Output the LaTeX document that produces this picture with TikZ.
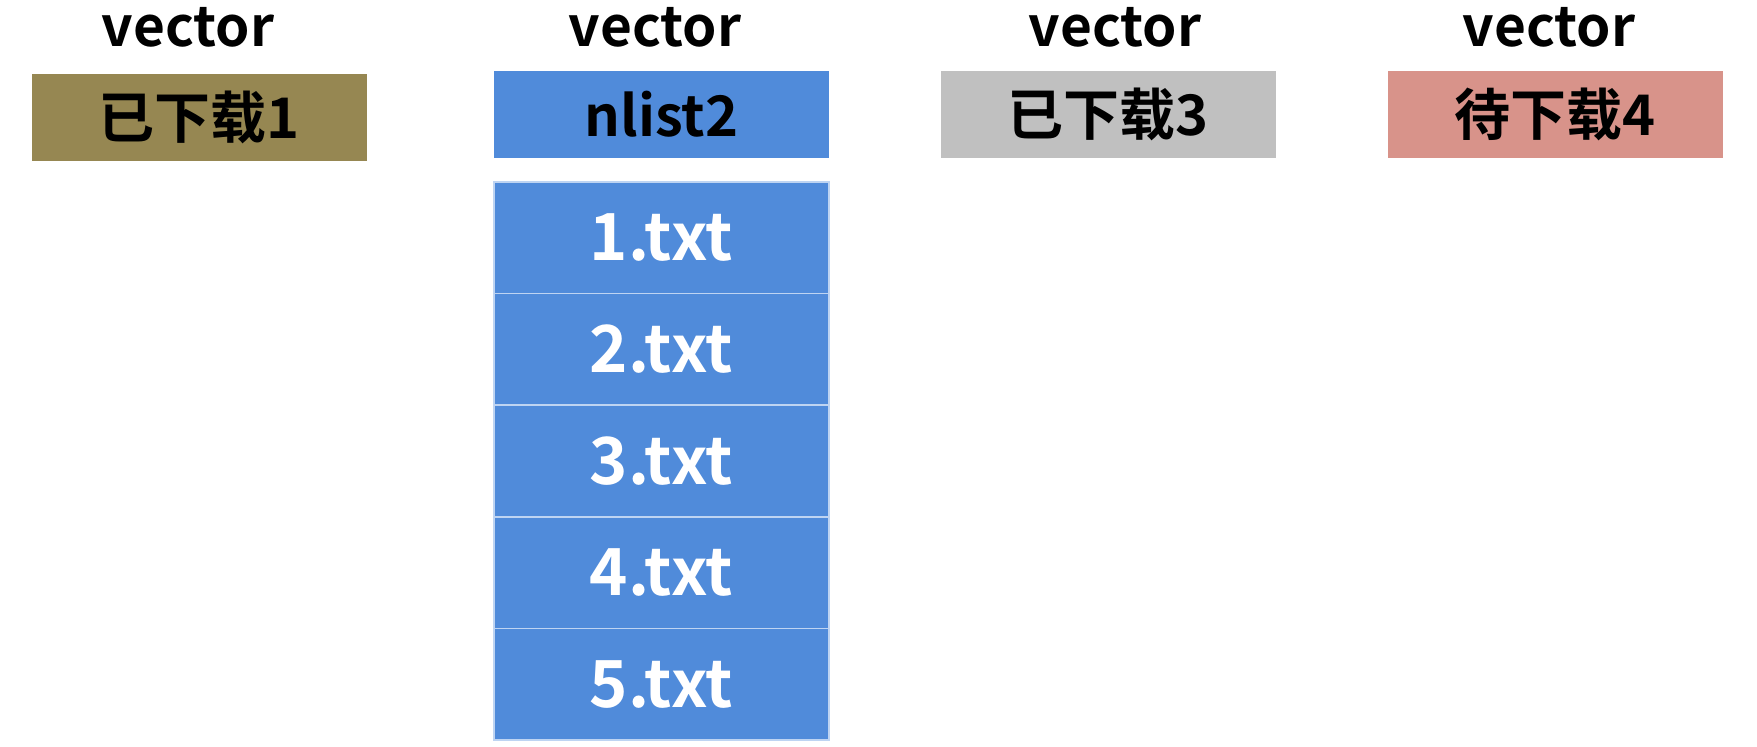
\documentclass[tikz,border=0pt]{standalone}
\usepackage{fontspec}
\setmainfont{Noto Sans CJK SC}[BoldFont={Noto Sans CJK SC Bold}]
\usetikzlibrary{positioning}
\definecolor{dlolive}{RGB}{150,135,82}
\definecolor{listblue}{RGB}{80,139,218}
\definecolor{dlgray}{RGB}{192,192,192}
\definecolor{dlpink}{RGB}{216,147,138}
\definecolor{cellline}{RGB}{190,212,242}
\tikzset{
  vec/.style={font=\bfseries\fontsize{55}{55}\selectfont,anchor=base,inner sep=0pt},
  head/.style={minimum width=335pt,minimum height=87pt,inner sep=0pt,
    font=\bfseries\fontsize{56}{56}\selectfont},
  cell/.style={fill=listblue,draw=cellline,line width=1.5pt,minimum width=335pt,
    minimum height=111.6pt,inner sep=0pt,text=white,font=\bfseries\fontsize{65}{65}\selectfont}
}
\begin{document}
\begin{tikzpicture}[x=1pt,y=-1pt]
	\useasboundingbox (0,0) rectangle (1757,747);
	% the four vectors
		\node[vec] (vec1) at (188,46) {vector};
		\node[vec] (vec2) at (655,46) {vector};
		\node[vec] (vec3) at (1115,46) {vector};
		\node[vec] (vec4) at (1549,46) {vector};
	\node[head,fill=dlolive] (done1) at (199,117.5) {已下载1};
	\node[head,fill=listblue] (nlist) at (661.5,114.5) {nlist2};
	\node[head,fill=dlgray] (done3) at (1108,114.5) {已下载3};
	\node[head,fill=dlpink] (todo4) at (1555.5,114.5) {待下载4};
	% files of nlist2
	\foreach \i in {1,...,5}
		\node[cell] (file\i) at (661.5,{182+111.6*(\i-0.5)}) {\i.txt};
\end{tikzpicture}
\end{document}
